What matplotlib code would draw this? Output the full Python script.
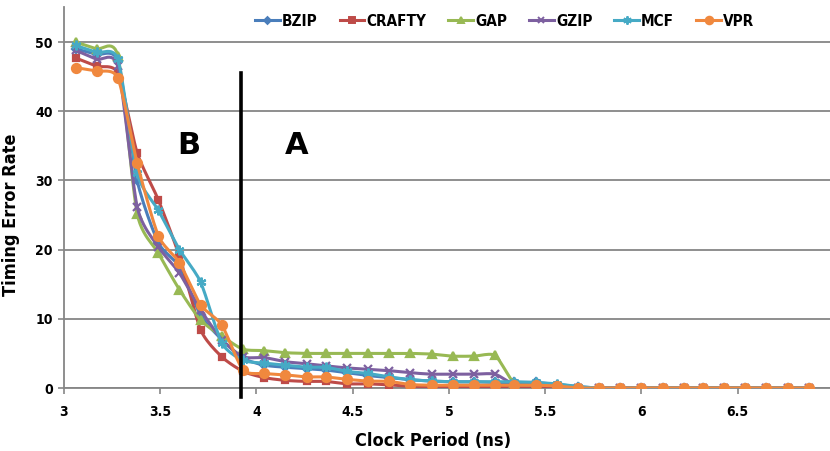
import numpy as np
import matplotlib
matplotlib.use("Agg")
import matplotlib.pyplot as plt

plt.rcParams['font.family'] = ['DejaVu Sans']
plt.rcParams['font.stretch'] = 'condensed'
plt.rcParams['font.weight'] = 'bold'

# clock period (ns)
period = [3.06, 3.17, 3.28, 3.38, 3.49, 3.60, 3.71, 3.82, 3.93, 4.04, 4.15, 4.26,
          4.36, 4.47, 4.58, 4.69, 4.80, 4.91, 5.02, 5.13, 5.24, 5.34, 5.45, 5.56,
          5.67, 5.78, 5.89, 6.00, 6.11, 6.22, 6.32, 6.43, 6.54, 6.65, 6.76, 6.87]

bzip = [49.0, 48.2, 47.2, 30.0, 21.0, 17.5, 10.5, 7.0, 4.3, 3.3, 3.0, 2.8,
        2.6, 2.2, 1.8, 1.5, 1.2, 1.0, 0.9, 0.9, 0.8, 0.8, 0.8, 0.5,
        0.2, 0, 0, 0, 0, 0, 0, 0, 0, 0, 0, 0]
crafty = [47.7, 46.5, 45.5, 34.0, 27.2, 19.0, 8.4, 4.5, 2.4, 1.5, 1.1, 0.95,
          0.95, 0.6, 0.6, 0.45, 0.25, 0.2, 0.2, 0.2, 0.2, 0.2, 0.2, 0,
          0, 0, 0, 0, 0, 0, 0, 0, 0, 0, 0, 0]
gap = [50.0, 49.0, 48.0, 25.2, 19.5, 14.2, 9.8, 7.5, 5.6, 5.4, 5.1, 5.0,
       5.0, 5.0, 5.0, 5.0, 5.0, 4.9, 4.6, 4.6, 4.7, 0.7, 0.5, 0.3,
       0, 0, 0, 0, 0, 0, 0, 0, 0, 0, 0, 0]
gzip = [48.8, 47.5, 46.5, 26.2, 20.4, 16.6, 11.3, 7.0, 4.5, 4.4, 3.8, 3.5,
        3.2, 2.9, 2.7, 2.5, 2.2, 2.0, 2.0, 2.0, 2.0, 0.5, 0.5, 0.3,
        0, 0, 0, 0, 0, 0, 0, 0, 0, 0, 0, 0]
mcf = [49.5, 48.5, 47.5, 31.0, 25.7, 20.0, 15.3, 6.5, 4.0, 3.6, 3.3, 3.0,
       3.0, 2.4, 2.1, 1.6, 1.2, 1.0, 0.9, 0.9, 0.9, 0.9, 0.8, 0.6,
       0.2, 0, 0, 0, 0, 0, 0, 0, 0, 0, 0, 0]
vpr = [46.3, 45.8, 44.8, 32.5, 22.0, 18.1, 12.0, 9.1, 2.6, 2.1, 1.9, 1.6,
       1.6, 1.25, 1.0, 0.95, 0.5, 0.4, 0.4, 0.4, 0.4, 0.4, 0.4, 0.3,
       0, 0, 0, 0, 0, 0, 0, 0, 0, 0, 0, 0]

names = ["BZIP", "CRAFTY", "GAP", "GZIP", "MCF", "VPR"]
series = [bzip, crafty, gap, gzip, mcf, vpr]
colors = ["#4A7EBB", "#BE4B48", "#98B954", "#7D60A0", "#46AAC5", "#F0883E"]
markers = ["D", "s", "^", "x", (6, 2, 0), "o"]
msizes = [4.5, 5, 6, 6, 7, 6.5]


def smooth(x, y, n=12, k=9.0):
    # bezier smoothing through the points, a bit tighter than catmull-rom
    x = np.asarray(x, float)
    y = np.asarray(y, float)
    px = np.concatenate([[x[0]], x, [x[-1]]])
    py = np.concatenate([[y[0]], y, [y[-1]]])
    xs, ys = [], []
    for i in range(1, len(px) - 2):
        t = np.linspace(0, 1, n, endpoint=False)
        p0, p1, p2, p3 = px[i-1], px[i], px[i+1], px[i+2]
        q0, q1, q2, q3 = py[i-1], py[i], py[i+1], py[i+2]
        b1x, b1y = p1 + (p2 - p0) / k, q1 + (q2 - q0) / k
        b2x, b2y = p2 - (p3 - p1) / k, q2 - (q3 - q1) / k
        xs.append((1-t)**3*p1 + 3*(1-t)**2*t*b1x + 3*(1-t)*t**2*b2x + t**3*p2)
        ys.append((1-t)**3*q1 + 3*(1-t)**2*t*b1y + 3*(1-t)*t**2*b2y + t**3*q2)
    xs.append([x[-1]])
    ys.append([y[-1]])
    return np.concatenate(xs), np.concatenate(ys)


fig = plt.figure(figsize=(8.3, 4.51), dpi=100)
ax = fig.add_axes([64/830, 1 - 388/451, 766/830, 380.6/451])

for name, vals, c, m, ms in zip(names, series, colors, markers, msizes):
    sx, sy = smooth(period, vals)
    ax.plot(sx, sy, color=c, lw=2.2, zorder=3)
    ax.plot(period, vals, ls="none", marker=m, ms=ms, color=c, mec=c,
            mew=1.6, zorder=3)
    ax.plot([], [], color=c, lw=2.2, marker=m, ms=ms - 1, mec=c, mew=1.4,
            label=name)

ax.set_xlim(3, 6.98)
ax.set_ylim(0, 55)
ax.set_xticks([3, 3.5, 4, 4.5, 5, 5.5, 6, 6.5])
ax.set_xticklabels(["3", "3.5", "4", "4.5", "5", "5.5", "6", "6.5"])
ax.set_yticks([0, 10, 20, 30, 40, 50])
ax.yaxis.grid(True, color="#868686", lw=1.3)
ax.set_axisbelow(True)
for s in ["top", "right"]:
    ax.spines[s].set_visible(False)
for s in ["left", "bottom"]:
    ax.spines[s].set_color("#868686")
    ax.spines[s].set_linewidth(1.3)
ax.tick_params(colors="#868686", labelcolor="black", labelsize=10,
               length=4, width=1.2, pad=4)
ax.tick_params(axis="x", pad=8)

ax.set_xlabel("Clock Period (ns)", fontsize=13, fontweight="bold")
ax.set_ylabel("Timing Error Rate", fontsize=13, fontweight="bold")
ax.xaxis.set_label_coords(0.482, -0.115)
ax.yaxis.set_label_coords(-0.057, 0.455)

# region divider
ax.plot([3.92, 3.92], [-1.3, 45.5], color="black", lw=2.6, clip_on=False,
        zorder=5)
ax.text(3.65, 35.1, "B", fontsize=22, fontweight="bold", ha="center",
        va="center", fontstretch="normal")
ax.text(4.21, 35.1, "A", fontsize=22, fontweight="bold", ha="center",
        va="center", fontstretch="normal")

fig.legend(loc="center", bbox_to_anchor=(0.608, 0.953), ncol=6, frameon=False,
           handlelength=1.6, handletextpad=0.15, columnspacing=1.45,
           prop={"weight": "bold", "size": 11, "stretch": "condensed"})

fig.savefig("out.png", dpi=100)
